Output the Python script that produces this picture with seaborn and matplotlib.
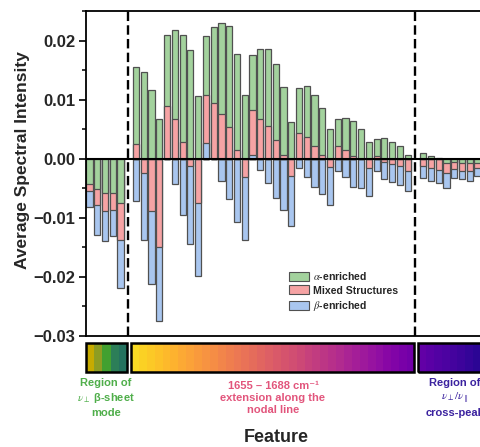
import numpy as np
import pandas as pd
import matplotlib
matplotlib.use("Agg")
import matplotlib.pyplot as plt
import seaborn as sns
from matplotlib.patches import Rectangle, Patch
from matplotlib.ticker import FixedLocator, MultipleLocator

# ---------------- data ----------------
feature_idx = list(range(51))
nan = np.nan
alpha_enriched = [-0.0042, -0.0052, -0.0058, -0.0058, -0.0075, nan,
                  0.0130, 0.0146, 0.0117, 0.0067, 0.0120, 0.0151, 0.0182, 0.0184, 0.0106, 0.0101,
                  0.0128, 0.0155, 0.0172, 0.0164, 0.0108, 0.0092, 0.0117, 0.0131, 0.0130, 0.0116,
                  0.0062, 0.0075, 0.0087, 0.0086, 0.0079, 0.0051, 0.0047, 0.0055, 0.0058, 0.0050,
                  0.0028, 0.0028, 0.0035, 0.0029, 0.0022, 0.0007, nan,
                  0.0009, 0.0005, 0.0002, -0.0008, -0.0005, -0.0007, -0.0008, -0.0007]
mixed_structures = [-0.0013, -0.0027, -0.0031, -0.0029, -0.0063, nan,
                    0.0025, -0.0024, -0.0088, -0.0150, 0.0090, 0.0067, 0.0028, -0.0012, -0.0075, 0.0080,
                    0.0095, 0.0075, 0.0053, 0.0014, -0.0031, 0.0076, 0.0068, 0.0055, 0.0031, 0.0006,
                    -0.0030, 0.0044, 0.0036, 0.0021, 0.0006, -0.0014, 0.0021, 0.0014, 0.0005, 0.0000,
                    -0.0016, 0.0005, -0.0005, -0.0009, -0.0012, -0.0020, nan,
                    -0.0012, -0.0015, -0.0019, -0.0017, -0.0012, -0.0013, -0.0013, -0.0009]
beta_enriched = [-0.0027, -0.0050, -0.0050, -0.0044, -0.0080, nan,
                 -0.0072, -0.0113, -0.0124, -0.0125, 0.0000, -0.0042, -0.0095, -0.0132, -0.0123, 0.0027,
                 0.0000, -0.0038, -0.0069, -0.0107, -0.0107, 0.0007, -0.0019, -0.0041, -0.0066, -0.0086,
                 -0.0084, -0.0016, -0.0031, -0.0048, -0.0060, -0.0065, -0.0020, -0.0031, -0.0048, -0.0049,
                 -0.0047, -0.0021, -0.0030, -0.0031, -0.0033, -0.0035, nan,
                 -0.0020, -0.0023, -0.0022, -0.0024, -0.0015, -0.0015, -0.0017, -0.0013]
separators = [5, 42]
y_ticks = [-0.03, -0.02, -0.01, 0.00, 0.01, 0.02]
y_tick_labels = ["\u22120.03", "\u22120.02", "\u22120.01", "0.00", "0.01", "0.02"]
series_labels = [r"$\alpha$-enriched", "Mixed Structures", r"$\beta$-enriched"]

# ---------------- style ----------------
sns.set_theme(style="ticks")
plt.rcParams["font.family"] = ["Liberation Sans", "DejaVu Sans"]
plt.rcParams["mathtext.fontset"] = "stix"
plt.rcParams["axes.unicode_minus"] = True

C_GREEN = "#a3d29d"
C_RED = "#f6a3a4"
C_BLUE = "#a9c6ef"
EDGE = "#505050"

W, H = 481, 447
fig = plt.figure(figsize=(W / 100, H / 100), dpi=100)
fx = lambda px: px / W
fy = lambda py: 1 - py / H

XMIN, XMAX = -0.45, 52.5
ax_left, ax_top, ax_bot = 86, 11, 336
ax_w = (XMAX - XMIN) * 7.76
ax = fig.add_axes([fx(ax_left), fy(ax_bot), ax_w / W, (ax_bot - ax_top) / H])

df = pd.DataFrame({"x": feature_idx, "g": alpha_enriched, "r": mixed_structures, "b": beta_enriched})
df = df.dropna().reset_index(drop=True)
pos = lambda s: s.clip(lower=0)
neg = lambda s: s.clip(upper=0)

layers = [
    (pos(df.b) + pos(df.r) + pos(df.g), C_GREEN),   # positive: green on top
    (neg(df.g) + neg(df.r) + neg(df.b), C_BLUE),    # negative: blue outermost
    (pos(df.b) + pos(df.r), C_RED),
    (neg(df.g) + neg(df.r), C_RED),
    (pos(df.b), C_BLUE),
    (neg(df.g), C_GREEN),
]
for h, col in layers:
    d = pd.DataFrame({"x": df.x, "h": h})
    sns.barplot(data=d, x="x", y="h", native_scale=True, width=0.8, color=col,
                saturation=1, edgecolor=EDGE, linewidth=0.9, errorbar=None, ax=ax)

ax.axhline(0, color="black", lw=1.5, zorder=5)
for s in separators:
    ax.axvline(s, color="black", lw=1.7, ls=(0, (4, 1.8)), zorder=6)

ax.set_xlim(XMIN, XMAX)
ax.set_ylim(-0.03, 0.025)
ax.set_xticks([])
ax.set_xlabel("")
ax.set_ylabel("")
ax.yaxis.set_major_locator(FixedLocator(y_ticks))
ax.set_yticklabels(y_tick_labels, fontsize=12, fontweight="bold")
ax.yaxis.set_minor_locator(MultipleLocator(0.005))
ax.tick_params(axis="y", which="major", direction="out", length=5, width=1.2, pad=2.5, color="black")
ax.tick_params(axis="y", which="minor", direction="out", length=3, width=1.1, color="black")
for sp in ax.spines.values():
    sp.set_color("black")
    sp.set_linewidth(1.3)

# legend
handles = [Patch(facecolor=C_GREEN, edgecolor=EDGE, lw=0.8, label=series_labels[0]),
           Patch(facecolor=C_RED, edgecolor=EDGE, lw=0.8, label=series_labels[1]),
           Patch(facecolor=C_BLUE, edgecolor=EDGE, lw=0.8, label=series_labels[2])]
fig.legend(handles=handles, loc="upper left", bbox_to_anchor=(fx(289), fy(270)),
           bbox_transform=fig.transFigure, frameon=False,
           prop={"weight": "bold", "size": 7.6}, handlelength=1.9, handleheight=0.95,
           handletextpad=0.35, labelspacing=0.32, borderpad=0, borderaxespad=0)

# colour strip
ax2 = fig.add_axes([fx(ax_left), fy(372), ax_w / W, 29 / H])
ax2.set_xlim(XMIN, XMAX)
ax2.set_ylim(0, 1)
ax2.axis("off")
box1_colors = ["#c7ab00", "#8e9d22", "#42a030", "#2c7e58", "#24725f"]
plasma = plt.get_cmap("plasma")
boxes = [
    (-0.45, 4.83, np.array([matplotlib.colors.to_rgb(c) for c in box1_colors])),
    (5.31, 41.78, plasma(np.linspace(0.93, 0.22, 36))[:, :3]),
    (42.37, 53.5, plasma(np.linspace(0.18, 0.0, 11))[:, :3]),
]
for x0, x1, cols in boxes:
    ax2.imshow(cols[np.newaxis, :, :], extent=(x0, x1, 0, 1), aspect="auto",
               interpolation="nearest", clip_on=False)
    ax2.add_patch(Rectangle((x0, 0), x1 - x0, 1, fill=False, ec="black", lw=1.8, clip_on=False))
ax2.set_xlim(XMIN, XMAX)
ax2.set_ylim(0, 1)

# annotations
txt_kw = dict(ha="center", va="center", fontsize=8, fontweight="bold", linespacing=1.3)
fig.text(fx(106), fy(398), "Region of\n$\\nu_{\\perp}$ β-sheet\nmode", color="#4fae4a", **txt_kw)
fig.text(fx(273), fy(398), "1655 \u2013 1688 cm\u207b\u00b9\nextension along the\nnodal line",
         color="#e2557c", **txt_kw)
fig.text(fx(455), fy(398), "Region of\n$\\nu_{\\perp}/\\nu_{\\parallel}$\ncross-peak",
         color="#3b229f", **txt_kw)

fig.text(fx(276), fy(438), "Feature", ha="center", va="center", fontsize=13, fontweight="bold")
fig.text(fx(23), fy(160), "Average Spectral Intensity", ha="center", va="center",
         rotation=90, fontsize=12.5, fontweight="bold")

fig.savefig("out.png", dpi=100)
